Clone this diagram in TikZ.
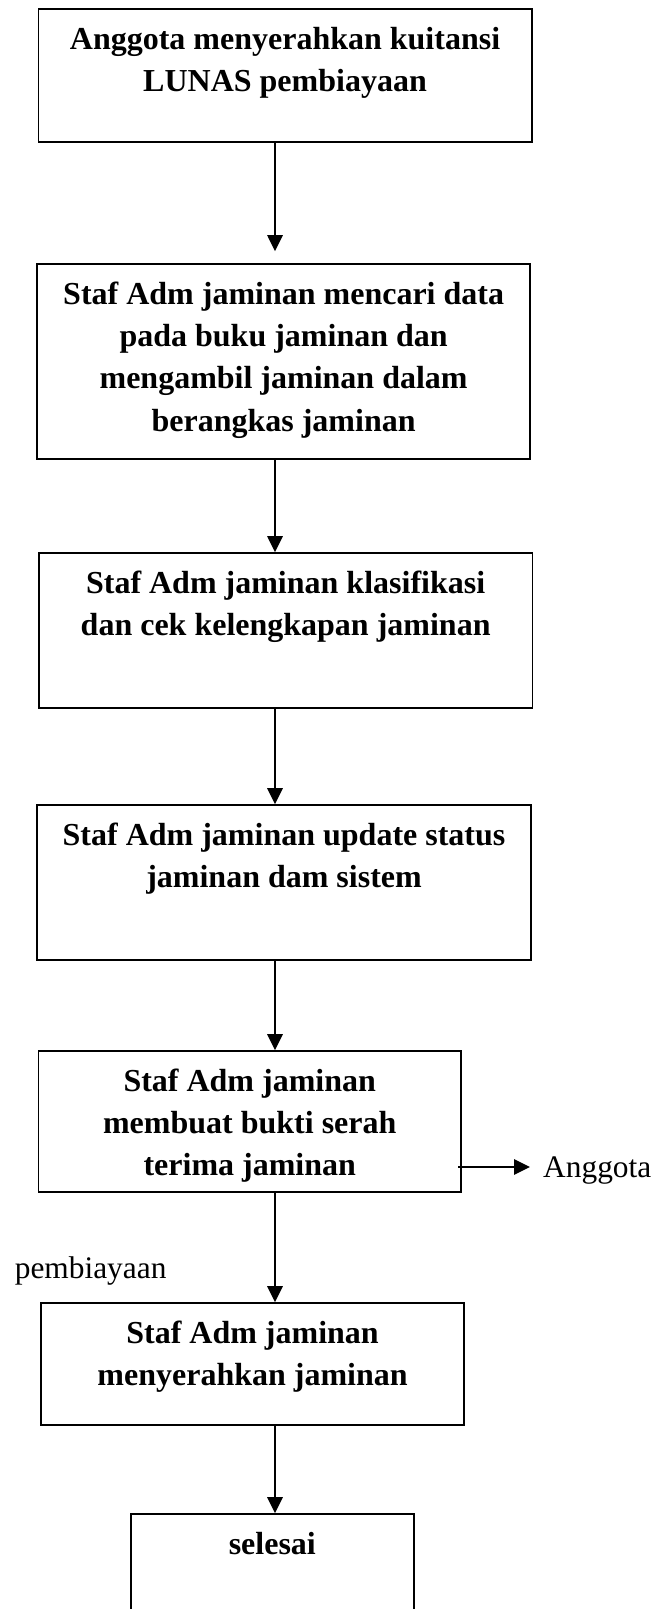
\documentclass[tikz,border=0pt]{standalone}
\usepackage{fontspec}
\setmainfont{Liberation Serif}
\usetikzlibrary{arrows.meta}

\tikzset{
  box/.style={draw=black, line width=1.8pt, inner sep=0pt, fill=none},
  boxtext/.style={anchor=north, inner sep=0pt, align=center,
    font=\fontsize{32}{42.3}\selectfont\bfseries},
  plaintext/.style={inner sep=0pt, font=\fontsize{31.4}{38}\selectfont},
  arr/.style={line width=1.5pt, -{Triangle[length=16pt,width=15.5pt]}}
}

\begin{document}
\begin{tikzpicture}[x=1pt,y=-1pt]
  \useasboundingbox (0,0) rectangle (655,1609);
  \clip (0,0) rectangle (655,1609);

  % column of the main flow
  \coordinate (col) at (275,0);

  % process boxes
  \node[box, minimum width=493.1pt, minimum height=133pt] (b1) at (285.05,75.5) {};
  \node[box, minimum width=492.7pt, minimum height=195pt] (b2) at (283.65,361.5) {};
  \node[box, minimum width=493.5pt, minimum height=155pt] (b3) at (285.65,630.5) {};
  \node[box, minimum width=493.5pt, minimum height=155pt] (b4) at (284.05,882.5) {};
  \node[box, minimum width=422.5pt, minimum height=141pt] (b5) at (249.75,1121.5) {};
  \node[box, minimum width=423.2pt, minimum height=122pt] (b6) at (252.6,1364) {};
  \node[box, minimum width=283.4pt, minimum height=186pt] (b7) at (272.3,1607) {};

  % box texts, set from the top edge of each box
  \node[boxtext] (t1) at ([yshift=-11.4pt]b1.north) {\strut Anggota menyerahkan kuitansi\\LUNAS pembiayaan};
  \node[boxtext] (t2) at ([yshift=-11.4pt]b2.north) {\strut Staf Adm jaminan mencari data\\pada buku jaminan dan\\mengambil jaminan dalam\\berangkas jaminan};
  \node[boxtext] (t3) at ([yshift=-11.4pt]b3.north) {\strut Staf Adm jaminan klasifikasi\\dan cek kelengkapan jaminan};
  \node[boxtext] (t4) at ([yshift=-11.4pt]b4.north) {\strut Staf Adm jaminan update status\\jaminan dam sistem};
  \node[boxtext] (t5) at ([yshift=-11.4pt]b5.north) {\strut Staf Adm jaminan\\membuat bukti serah\\terima jaminan};
  \node[boxtext] (t6) at ([yshift=-11.4pt]b6.north) {\strut Staf Adm jaminan\\menyerahkan jaminan};
  \node[boxtext] (t7) at ([yshift=-11.4pt]b7.north) {\strut selesai};

  % side labels
  \node[plaintext, anchor=base west] (anggota) at (543,1177) {Anggota};
  \node[plaintext, anchor=base west] (pemb) at (14.6,1278) {pembiayaan};

  % flow arrows
  \draw[arr, shorten >=12pt] (b1.south -| col) -- (b2.north -| col);
  \draw[arr] (b2.south -| col) -- (b3.north -| col);
  \draw[arr] (b3.south -| col) -- (b4.north -| col);
  \draw[arr] (b4.south -| col) -- (b5.north -| col);
  \draw[arr] (b5.south -| col) -- (b6.north -| col);
  \draw[arr] (b6.south -| col) -- (b7.north -| col);

  % handover arrow to the member
  \coordinate (hstart) at ([xshift=-3.5pt]b5.east |- 0,1167);
  \draw[arr] (hstart) -- ([xshift=-13pt]anggota.west |- hstart);
\end{tikzpicture}
\end{document}
